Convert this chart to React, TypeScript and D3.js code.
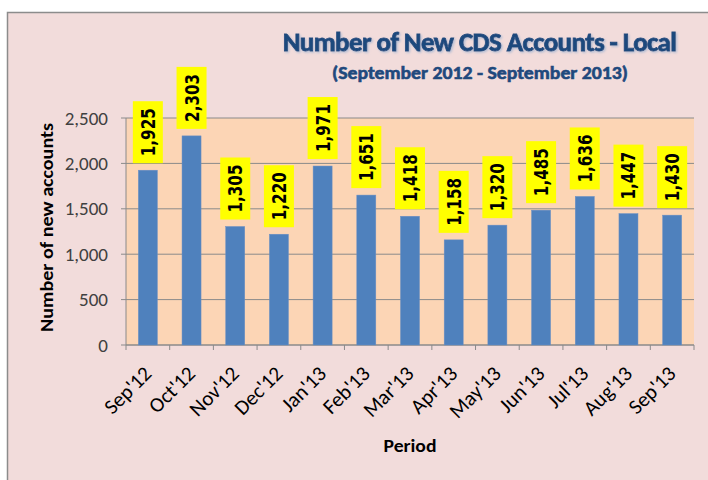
import React from "react";
import * as d3 from "d3";

const categories = ["Sep'12", "Oct'12", "Nov'12", "Dec'12", "Jan'13", "Feb'13", "Mar'13", "Apr'13", "May'13", "Jun'13", "Jul'13", "Aug'13", "Sep'13"];
const values = [1925, 2303, 1305, 1220, 1971, 1651, 1418, 1158, 1320, 1485, 1636, 1447, 1430];
const yTicks = [0, 500, 1000, 1500, 2000, 2500];
const title = "Number of New CDS Accounts - Local";
const subtitle = "(September 2012 - September 2013)";
const yTitle = "Number of new accounts";
const xTitle = "Period";

export default function App() {
  const W = 708, H = 480;
  const left = 126, right = 694, top = 118, bottom = 345;
  const x = d3.scaleBand<string>().domain(categories).range([left, right]).paddingInner(0.565).paddingOuter(0.2825);
  const band = d3.scaleBand<string>().domain(categories).range([left, right]);
  const y = d3.scaleLinear().domain([0, 2500]).range([bottom, top]);
  const fmt = d3.format(",");
  const font = "Carlito, Calibri, 'Open Sans', 'DejaVu Sans', sans-serif";
  return (
    <svg width={W} height={H} style={{ position: "absolute", left: 0, top: 0 }}>
      <defs>
        <filter id="tshadow" x="-5%" y="-30%" width="110%" height="160%">
          <feDropShadow dx={1.2} dy={1.2} stdDeviation={0.8} floodColor="#9fb3d1" floodOpacity={0.8} />
        </filter>
      </defs>
      <rect x={0} y={0} width={W} height={H} fill="#ffffff" />
      <rect x={7.5} y={12.5} width={W + 10} height={H + 10} fill="#F2DCDB" stroke="#8c8c8c" strokeWidth={1.5} />
      <rect x={left} y={top} width={right - left} height={bottom - top} fill="#FCD5B5" />
      {yTicks.map((t) => (
        <g key={t}>
          <line x1={left - 5} x2={right} y1={y(t)} y2={y(t)} stroke="#8a8a8a" strokeWidth={1} />
          <text x={108} y={y(t) + 6.5} textAnchor="end" fontFamily={font} fontSize={19} fill="#404040">{fmt(t)}</text>
        </g>
      ))}
      <line x1={left} x2={left} y1={top} y2={bottom} stroke="#8a8a8a" />
      <line x1={left} x2={right} y1={bottom} y2={bottom} stroke="#8a8a8a" />
      {categories.map((c, i) => (
        <line key={"t" + i} x1={band(c)!} x2={band(c)!} y1={bottom} y2={bottom + 5} stroke="#8a8a8a" />
      ))}
      <line x1={right} x2={right} y1={bottom} y2={bottom + 5} stroke="#8a8a8a" />
      {categories.map((c, i) => {
        const bx = x(c)!;
        const bw = x.bandwidth();
        const cx = bx + bw / 2;
        const by = y(values[i]);
        const bh = 62;
        const bwBox = 30;
        return (
          <g key={c}>
            <rect x={bx} y={by} width={bw} height={bottom - by} fill="#4F81BD" stroke="#6b8fc4" strokeWidth={0.5} />
            <rect x={cx - bwBox / 2} y={by - 7 - bh} width={bwBox} height={bh} fill="#FFFF00" />
            <text transform={`translate(${cx + 7},${by - 7 - bh / 2}) rotate(-90)`} textAnchor="middle" fontFamily="Verdana, 'DejaVu Sans', sans-serif" fontWeight="bold" fontSize={19} fill="#000" textLength={48} lengthAdjust="spacingAndGlyphs">{fmt(values[i])}</text>
            <text transform={`translate(${cx + 5},${bottom + 30}) rotate(-45)`} textAnchor="end" fontFamily={font} fontSize={21} fill="#000">{c}</text>
          </g>
        );
      })}
      <text x={479.5} y={51} textAnchor="middle" fontFamily={font} fontWeight="bold" fontSize={27} letterSpacing={-0.6} fill="#1F497D" stroke="#1F497D" strokeWidth={0.8} filter="url(#tshadow)">{title}</text>
      <text x={480} y={79} textAnchor="middle" fontFamily={font} fontWeight="bold" fontSize={19} fill="#1F497D" stroke="#1F497D" strokeWidth={0.6} textLength={296} lengthAdjust="spacingAndGlyphs">{subtitle}</text>
      <text transform={`translate(53,227.5) rotate(-90)`} textAnchor="middle" fontFamily={font} fontWeight="bold" fontSize={19} fill="#000" textLength={209} lengthAdjust="spacingAndGlyphs">{yTitle}</text>
      <text x={410} y={452} textAnchor="middle" fontFamily={font} fontWeight="bold" fontSize={19} fill="#000" textLength={53} lengthAdjust="spacingAndGlyphs">{xTitle}</text>
    </svg>
  );
}
